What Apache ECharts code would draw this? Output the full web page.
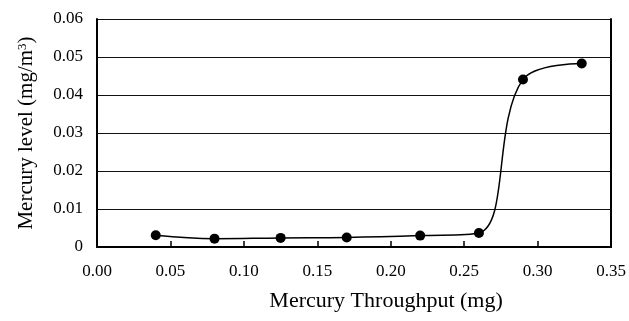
<!DOCTYPE html>
<html>
<head>
<meta charset="utf-8">
<script src="https://cdn.jsdelivr.net/npm/echarts@6/dist/echarts.min.js"></script>
<style>
  html, body { margin: 0; padding: 0; background: #fff; }
  #chart { width: 629px; height: 321px; }
</style>
</head>
<body>
<div id="chart"></div>
<script>
  // mercury throughput (mg) vs mercury level (mg/m3)
  var throughput = [0.04, 0.08, 0.125, 0.17, 0.22, 0.26, 0.29, 0.33];
  var mercuryLevel = [0.0031, 0.0022, 0.0024, 0.0025, 0.003, 0.0037, 0.0441, 0.0483];

  var font = 'Liberation Serif';
  var myChart = echarts.init(document.getElementById('chart'));
  var option = {
    animation: false,
    grid: {
      left: 97,
      right: 15,
      top: 19,
      bottom: 74
    },
    xAxis: {
      type: 'value',
      min: 0,
      max: 0.35,
      interval: 0.05,
      name: 'Mercury Throughput (mg)',
      nameLocation: 'middle',
      nameGap: 43,
      nameTextStyle: { fontFamily: font, fontSize: 22, color: '#000', padding: [0, 0, 0, 64] },
      axisLine: { show: true, lineStyle: { color: '#000', width: 2 } },
      axisTick: { show: true, inside: true, length: 6, lineStyle: { color: '#000', width: 1.5 } },
      axisLabel: {
        margin: 16,
        fontFamily: font,
        fontSize: 17,
        color: '#000',
        formatter: function (v) { return v.toFixed(2); }
      },
      splitLine: { show: false }
    },
    yAxis: [{
      type: 'value',
      min: 0,
      max: 0.06,
      interval: 0.01,
      name: '{a|Mercury level (mg/m}{s|3}{a|)}',
      nameLocation: 'middle',
      nameGap: 60,
      nameTextStyle: {
        rich: {
          a: { fontFamily: font, fontSize: 21, color: '#000' },
          s: { fontFamily: font, fontSize: 13, color: '#000', verticalAlign: 'top', padding: [0, 0, 8, 0] }
        }
      },
      axisLine: { show: true, lineStyle: { color: '#000', width: 2 } },
      axisTick: { show: false },
      axisLabel: {
        margin: 14,
        fontFamily: font,
        fontSize: 17,
        color: '#000',
        formatter: function (v) { return v === 0 ? '0' : v.toFixed(2); }
      },
      splitLine: { show: true, lineStyle: { color: '#111', width: 1 } }
    }, {
      type: 'value',
      position: 'right',
      min: 0,
      max: 0.06,
      axisLine: { show: true, lineStyle: { color: '#000', width: 2 } },
      axisTick: { show: false },
      axisLabel: { show: false },
      splitLine: { show: false }
    }],
    series: [{
      type: 'line',
      smooth: 0.4,
      data: throughput.map(function (x, i) { return [x, mercuryLevel[i]]; }),
      symbol: 'circle',
      symbolSize: 10,
      itemStyle: { color: '#000' },
      lineStyle: { color: '#000', width: 1.5 }
    }]
  };
  myChart.setOption(option);
</script>
</body>
</html>
